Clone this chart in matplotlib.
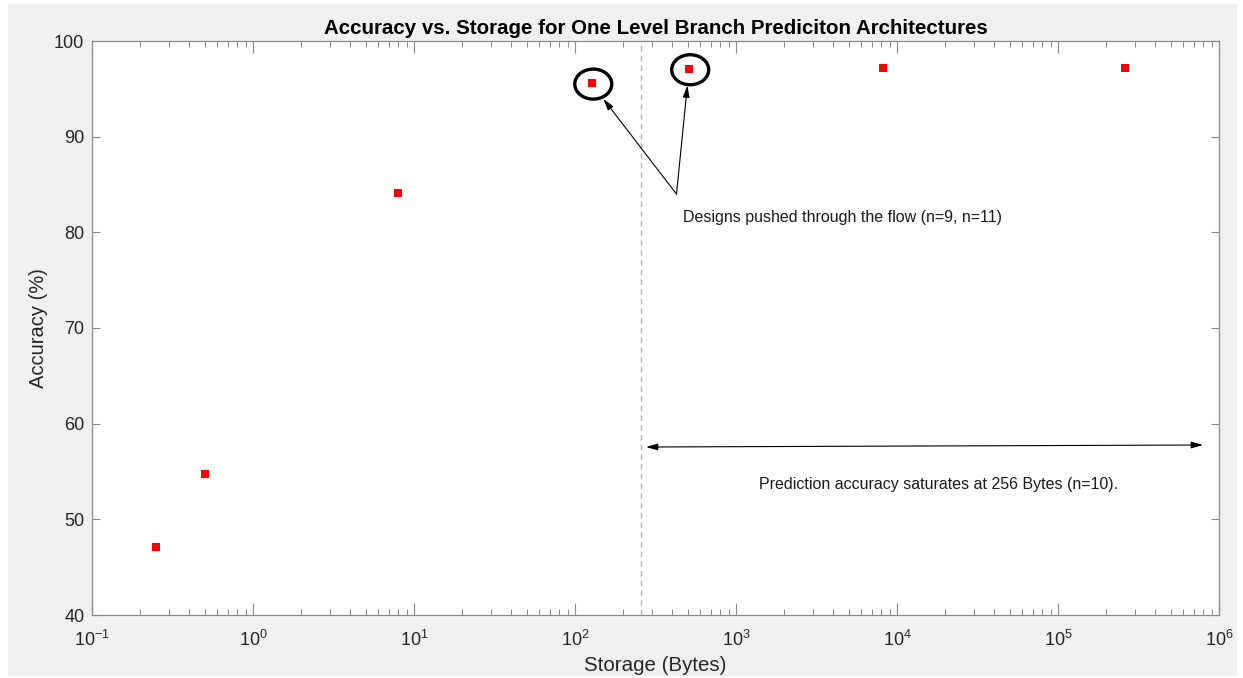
import matplotlib
matplotlib.use("Agg")
import matplotlib.pyplot as plt
import matplotlib.transforms as mtransforms
from matplotlib.patches import Ellipse, Rectangle
from matplotlib.ticker import LogLocator, FixedLocator, NullFormatter

plt.rcParams['font.family'] = ['Liberation Sans', 'DejaVu Sans']
plt.rcParams['mathtext.fontset'] = 'custom'
plt.rcParams['mathtext.rm'] = 'Liberation Sans'
plt.rcParams['mathtext.it'] = 'Liberation Sans'
plt.rcParams['mathtext.default'] = 'regular'

# Data
storage_bytes = [0.25, 0.5, 8, 128, 512, 8192, 262144]
accuracy_pct = [47.15, 54.7, 84.1, 95.6, 97.1, 97.2, 97.2]
highlighted_x = [128, 512]
highlighted_y = [95.6, 97.1]
saturation_x = 256

x_ticks = [1e-1, 1e0, 1e1, 1e2, 1e3, 1e4, 1e5, 1e6]
x_tick_labels = [r'$10^{-1}$', r'$10^{0}$', r'$10^{1}$', r'$10^{2}$',
                 r'$10^{3}$', r'$10^{4}$', r'$10^{5}$', r'$10^{6}$']
y_ticks = [40, 50, 60, 70, 80, 90, 100]

title = "Accuracy vs. Storage for One Level Branch Prediciton Architectures"
xlabel = "Storage (Bytes)"
ylabel = "Accuracy (%)"
note_designs = "Designs pushed through the flow (n=9, n=11)"
note_saturate = "Prediction accuracy saturates at 256 Bytes (n=10)."

fig = plt.figure(figsize=(12.43, 6.78), dpi=100, facecolor='white')
fig.patches.append(Rectangle((8/1243, 2/678), (1237-8)/1243, (674-2)/678,
                             transform=fig.transFigure, facecolor='#f0f0f0',
                             edgecolor='none', zorder=-10))
ax = fig.add_axes([92/1243, 1-615/678, (1219-92)/1243, (615-41)/678])
ax.set_facecolor('white')

ax.set_xscale('log')
ax.set_xlim(0.1, 1e6)
ax.set_ylim(40, 100)
ax.set_yticks(y_ticks)
ax.xaxis.set_major_locator(FixedLocator(x_ticks))
ax.set_xticklabels(x_tick_labels)
ax.xaxis.set_minor_locator(LogLocator(base=10, subs=range(2, 10), numticks=50))
ax.xaxis.set_minor_formatter(NullFormatter())

axcol = '#8a8a8a'
for s in ax.spines.values():
    s.set_color(axcol)
    s.set_linewidth(0.9)
ax.tick_params(axis='both', which='both', direction='in', top=True, right=True,
               colors=axcol, labelcolor='#262626', labelsize=13)
ax.tick_params(axis='x', which='major', length=8.4, width=0.8, pad=11)
ax.tick_params(axis='x', which='minor', length=4.2, width=0.7)
ax.tick_params(axis='y', which='major', length=5.8, width=0.8, pad=5.5)

ax.axvline(saturation_x, color='#b4b4b4', linestyle=(0, (4, 3)), linewidth=1.0, zorder=1)

ax.plot(storage_bytes, accuracy_pct, linestyle='none', marker='s', markersize=6.3,
        color='#ff0000', markeredgewidth=0, zorder=3)

for hx, hy in zip(highlighted_x, highlighted_y):
    tr = fig.dpi_scale_trans + mtransforms.ScaledTranslation(hx, hy, ax.transData)
    ax.add_patch(Ellipse((0.01, -0.01), 0.37, 0.30, transform=tr, fill=False,
                         edgecolor='black', linewidth=2.4, zorder=4))

arrow_kw = dict(arrowstyle='-|>,head_length=0.7,head_width=0.2', color='black',
                linewidth=0.8, shrinkA=0, shrinkB=0)
ax.annotate('', xy=(150, 93.95), xytext=(427, 84.0), arrowprops=arrow_kw)
ax.annotate('', xy=(499, 95.35), xytext=(427, 84.0), arrowprops=arrow_kw)
ax.text(469, 81.1, note_designs, fontsize=11.5, ha='left', va='baseline', color='#1a1a1a')

ax.annotate('', xy=(276, 57.56), xytext=(7.95e5, 57.77),
            arrowprops=dict(arrowstyle='<|-|>,head_length=0.7,head_width=0.2',
                            color='black', linewidth=0.8, shrinkA=0, shrinkB=0))
ax.text(1.8e4, 53.17, note_saturate, fontsize=11.5, ha='center', va='baseline', color='#1a1a1a')

ax.set_title(title, fontsize=14.8, fontweight='bold', pad=5, color='black')
ax.set_xlabel(xlabel, fontsize=14.8, color='#262626', labelpad=4)
ax.set_ylabel(ylabel, fontsize=14.5, color='#262626', labelpad=4.5)

fig.savefig('out.png', dpi=100, facecolor=fig.get_facecolor())
